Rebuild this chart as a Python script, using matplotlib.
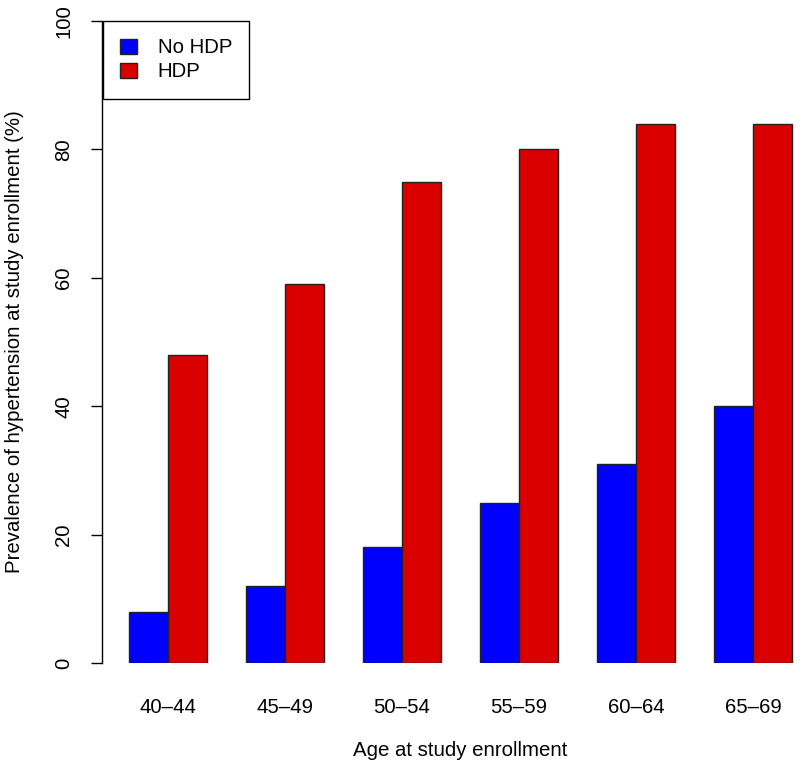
import matplotlib
matplotlib.use('Agg')
import matplotlib.pyplot as plt
import numpy as np

plt.rcParams['font.family'] = ['Liberation Sans', 'DejaVu Sans']

# dados
age_groups = ['40\u201344', '45\u201349', '50\u201354', '55\u201359', '60\u201364', '65\u201369']
no_hdp = [8, 12, 18, 25, 31, 40]
hdp = [48, 59, 75, 80, 84, 84]

blue = '#0000FF'
red = '#DA0000'
fs = 14.7

fig = plt.figure(figsize=(8, 7.69), dpi=100)
W, H = 800, 769
# region of the plot in pixels (right side extends past the image, as in the original)
left, right, top, bottom = 102.5, 818.5, 21, 663
ax = fig.add_axes([left / W, (H - bottom) / H, (right - left) / W, (bottom - top) / H])

# barplot estilo R: largura 1, espaço 1 entre grupos
x = np.arange(len(age_groups)) * 3 + 1
ax.bar(x + 0.5, no_hdp, width=1, color=blue, edgecolor='#222222', linewidth=1, label='No HDP')
ax.bar(x + 1.5, hdp, width=1, color=red, edgecolor='#222222', linewidth=1, label='HDP')

ax.set_xlim(0.32, 18.68)
ax.set_ylim(0, 100)
ax.set_xticks(x + 1)
ax.set_xticklabels(age_groups, fontsize=fs)
ax.tick_params(axis='x', length=0, pad=25)
ax.set_yticks([0, 20, 40, 60, 80, 100])
ax.set_yticklabels(['0', '20', '40', '60', '80', '100'], rotation=90, va='center', fontsize=fs)
ax.tick_params(axis='y', length=8, width=1, pad=13)

for s in ['top', 'right', 'bottom']:
    ax.spines[s].set_visible(False)
ax.spines['left'].set_linewidth(1)
ax.spines['left'].set_bounds(0, 100)

fig.text(460 / W, 1 - 750 / H, 'Age at study enrollment', ha='center', va='center', fontsize=fs)
fig.text(15 / W, 1 - 342 / H, 'Prevalence of hypertension at study enrollment (%)',
         ha='center', va='center', rotation=90, fontsize=fs)

leg = ax.legend(loc='upper left', bbox_to_anchor=(0, 1), borderaxespad=0, fancybox=False,
                edgecolor='black', framealpha=1, fontsize=fs, handlelength=0.85,
                handleheight=0.75, handletextpad=1.0, borderpad=0.85, labelspacing=0.25)
leg.get_frame().set_linewidth(1)

plt.savefig('out.png', dpi=100)
